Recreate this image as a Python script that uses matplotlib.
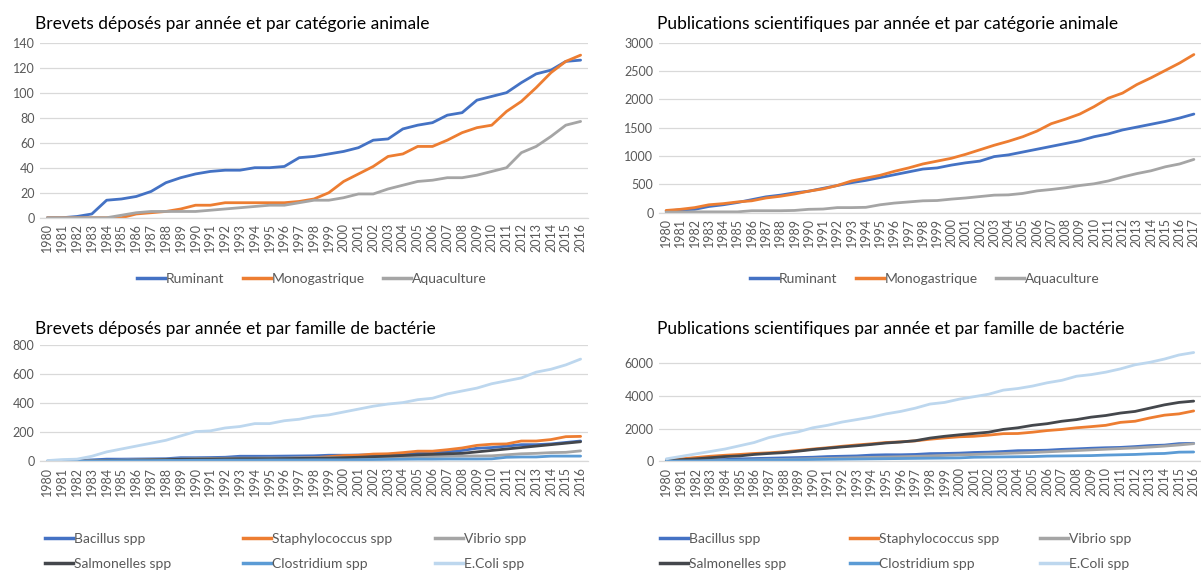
import matplotlib.pyplot as plt
from matplotlib.lines import Line2D

plt.rcParams['font.family'] = ['Lato', 'DejaVu Sans']

# years on the category axes
years_brevets = list(range(1980, 2017))
years_pubs = list(range(1980, 2018))

# Brevets par catégorie animale (1980-2016)
brev_ruminant = [0, 0, 1, 3, 14, 15, 17, 21, 28, 32, 35, 37, 38, 38, 40, 40, 41, 48, 49,
                 51, 53, 56, 62, 63, 71, 74, 76, 82, 84, 94, 97, 100, 108, 115, 118, 125, 126]
brev_monogastrique = [0, 0, 0, 0, 0, 0, 3, 4, 5, 7, 10, 10, 12, 12, 12, 12, 12, 13, 15,
                      20, 29, 35, 41, 49, 51, 57, 57, 62, 68, 72, 74, 85, 93, 104, 116, 125, 130]
brev_aquaculture = [0, 0, 0, 0, 0, 2, 4, 5, 5, 5, 5, 6, 7, 8, 9, 10, 10, 12, 14,
                    14, 16, 19, 19, 23, 26, 29, 30, 32, 32, 34, 37, 40, 52, 57, 65, 74, 77]

# Publications par catégorie animale (1980-2017)
pub_ruminant = [30, 50, 60, 110, 140, 180, 230, 280, 310, 350, 380, 430, 480, 530, 570, 620,
                670, 720, 770, 790, 840, 880, 910, 990, 1020, 1070, 1120, 1170, 1220, 1270,
                1340, 1390, 1460, 1510, 1560, 1610, 1670, 1740]
pub_monogastrique = [40, 60, 90, 140, 160, 190, 210, 260, 290, 330, 380, 420, 480, 560, 610,
                     660, 730, 790, 860, 910, 960, 1030, 1110, 1190, 1260, 1340, 1440, 1570,
                     1650, 1740, 1870, 2020, 2110, 2260, 2380, 2510, 2640, 2790]
pub_aquaculture = [10, 10, 15, 15, 15, 15, 35, 35, 35, 40, 60, 65, 90, 90, 95, 140, 170, 190,
                   210, 215, 240, 260, 285, 310, 315, 340, 385, 410, 440, 480, 510, 560, 630,
                   690, 740, 810, 860, 940]

# Brevets par famille de bactérie (1980-2016)
brev_bacillus = [0, 2, 5, 10, 15, 15, 16, 17, 18, 25, 25, 26, 28, 35, 35, 35, 36, 37, 38, 42,
                 42, 43, 45, 48, 52, 55, 58, 65, 75, 90, 95, 105, 115, 115, 120, 130, 140]
brev_staph = [0, 0, 0, 2, 3, 4, 5, 6, 8, 10, 12, 14, 15, 16, 17, 18, 20, 22, 25, 32,
              40, 42, 50, 52, 60, 70, 70, 80, 92, 110, 118, 120, 140, 140, 150, 170, 172]
brev_vibrio = [0, 0, 2, 4, 6, 8, 10, 12, 14, 16, 18, 20, 21, 22, 22, 23, 23, 24, 24, 25,
               26, 27, 28, 30, 31, 32, 33, 35, 36, 37, 38, 45, 52, 55, 60, 62, 72]
brev_salmonelles = [0, 0, 0, 2, 4, 5, 8, 10, 12, 14, 15, 16, 17, 18, 18, 18, 19, 20, 21, 22,
                    25, 28, 32, 36, 40, 45, 48, 52, 55, 65, 75, 85, 95, 105, 115, 125, 135]
brev_clostridium = [0, 0, 1, 2, 3, 4, 5, 5, 6, 6, 7, 7, 8, 8, 8, 9, 9, 9, 10, 10,
                    10, 11, 12, 13, 14, 15, 15, 16, 16, 16, 17, 28, 30, 30, 36, 36, 36]
brev_ecoli = [5, 12, 15, 35, 65, 85, 105, 125, 145, 175, 205, 210, 230, 240, 260, 260, 280,
              290, 310, 320, 340, 360, 380, 395, 405, 425, 435, 465, 485, 505, 535, 555, 575,
              615, 635, 665, 705]

# Publications par famille de bactérie (1980-2016)
pub_bacillus = [20, 50, 70, 90, 110, 150, 170, 190, 210, 230, 250, 290, 310, 330, 380, 400,
                400, 420, 470, 480, 500, 540, 560, 600, 650, 660, 680, 730, 760, 800, 830, 850,
                900, 960, 990, 1080, 1100]
pub_staph = [50, 150, 230, 310, 370, 420, 480, 520, 580, 660, 750, 830, 920, 1000, 1070, 1150,
             1190, 1250, 1350, 1430, 1500, 1530, 1600, 1690, 1700, 1780, 1880, 1950, 2050,
             2120, 2200, 2380, 2450, 2650, 2820, 2900, 3080]
pub_vibrio = [10, 20, 30, 40, 50, 60, 80, 100, 120, 140, 160, 180, 200, 220, 240, 260, 280,
              300, 330, 360, 390, 420, 450, 480, 510, 540, 580, 620, 660, 700, 740, 780, 820,
              870, 930, 1000, 1080]
pub_salmonelles = [50, 100, 150, 220, 290, 330, 420, 480, 530, 620, 720, 800, 880, 950, 1030,
                   1120, 1180, 1260, 1420, 1530, 1620, 1700, 1780, 1950, 2050, 2200, 2300,
                   2450, 2550, 2700, 2800, 2950, 3050, 3250, 3450, 3600, 3680]
pub_clostridium = [10, 20, 30, 40, 50, 60, 70, 80, 90, 100, 110, 120, 130, 140, 150, 160, 170,
                   180, 190, 200, 210, 250, 260, 270, 280, 290, 320, 330, 340, 350, 380, 400,
                   420, 460, 480, 560, 570]
pub_ecoli = [150, 300, 450, 600, 750, 950, 1150, 1450, 1650, 1800, 2050, 2200, 2400, 2550,
             2700, 2900, 3050, 3250, 3500, 3600, 3800, 3950, 4100, 4350, 4450, 4600, 4800,
             4950, 5200, 5300, 5450, 5650, 5900, 6050, 6250, 6500, 6650]

animal_labels = ['Ruminant', 'Monogastrique', 'Aquaculture']
bact_labels = ['Bacillus spp', 'Staphylococcus spp', 'Vibrio spp',
               'Salmonelles spp', 'Clostridium spp', 'E.Coli spp']

animal_colors = ['#4472C4', '#ED7D31', '#A5A5A5']
bact_colors = ['#4472C4', '#ED7D31', '#A5A5A5', '#44474C', '#5B9BD5', '#BDD7EE']

GRID = '#D9D9D9'
TXT = '#595959'
LW = 2.0

fig = plt.figure(figsize=(12.01, 5.76), dpi=100)


def style_axis(ax, years, ymax, yticks):
    ax.set_xlim(years[0] - 0.5, years[-1] + 0.5)
    ax.set_ylim(0, ymax)
    ax.set_xticks(years)
    ax.set_xticklabels([str(y) for y in years], rotation=90, fontsize=9, color=TXT)
    ax.set_yticks(yticks)
    ax.set_yticklabels([str(t) for t in yticks], fontsize=9, color=TXT)
    ax.tick_params(length=0, pad=4)
    ax.grid(axis='y', color=GRID, lw=0.9)
    ax.set_axisbelow(True)
    for s in ['top', 'right', 'left']:
        ax.spines[s].set_visible(False)
    ax.spines['bottom'].set_color(GRID)
    ax.spines['bottom'].set_linewidth(0.9)


def draw(ax, years, series, colors):
    for vals, c in zip(series, colors):
        ax.plot(years, vals, color=c, lw=LW, solid_joinstyle='round', solid_capstyle='round')


# top left
ax1 = fig.add_axes([0.0333, 0.622, 0.4563, 0.304])
draw(ax1, years_brevets, [brev_ruminant, brev_monogastrique, brev_aquaculture], animal_colors)
style_axis(ax1, years_brevets, 140, list(range(0, 141, 20)))

# top right
ax2 = fig.add_axes([0.5487, 0.6307, 0.4513, 0.2953])
draw(ax2, years_pubs, [pub_ruminant, pub_monogastrique, pub_aquaculture], animal_colors)
style_axis(ax2, years_pubs, 3000, list(range(0, 3001, 500)))

# bottom left
ax3 = fig.add_axes([0.0333, 0.1991, 0.4563, 0.2014])
draw(ax3, years_brevets,
     [brev_bacillus, brev_staph, brev_vibrio, brev_salmonelles, brev_clostridium, brev_ecoli],
     bact_colors)
style_axis(ax3, years_brevets, 800, list(range(0, 801, 200)))

# bottom right
ax4 = fig.add_axes([0.5487, 0.1991, 0.4513, 0.196])
draw(ax4, years_brevets,
     [pub_bacillus, pub_staph, pub_vibrio, pub_salmonelles, pub_clostridium, pub_ecoli],
     bact_colors)
style_axis(ax4, years_brevets, 6900, list(range(0, 6001, 2000)))
ax4.grid(False)
for t in range(0, 6001, 2000):
    ax4.axhline(t, color=GRID, lw=0.9, zorder=0)

# titles
title_kw = dict(fontsize=12.5, color='black', va='baseline', ha='left')
fig.text(35 / 1201, 1 - 29 / 576, 'Brevets déposés par année et par catégorie animale', **title_kw)
fig.text(657 / 1201, 1 - 29 / 576, 'Publications scientifiques par année et par catégorie animale', **title_kw)
fig.text(35 / 1201, 1 - 334 / 576, 'Brevets déposés par année et par famille de bactérie', **title_kw)
fig.text(657 / 1201, 1 - 334 / 576, 'Publications scientifiques par année et par famille de bactérie', **title_kw)


def handles(colors, labels):
    return [Line2D([], [], color=c, lw=LW + 0.5, label=l) for c, l in zip(colors, labels)]


leg_kw = dict(frameon=False, handlelength=2.0, handletextpad=0.1,
              prop={'size': 10}, labelcolor=TXT, borderpad=0, borderaxespad=0)

h_animal = handles(animal_colors, animal_labels)
fig.legend(handles=h_animal, loc='center', bbox_to_anchor=(312 / 1201, 1 - 279 / 576),
           ncol=3, columnspacing=1.3, **leg_kw)
fig.legend(handles=h_animal, loc='center', bbox_to_anchor=(925 / 1201, 1 - 279 / 576),
           ncol=3, columnspacing=1.3, **leg_kw)

# bacteria legends: one legend per column so the columns line up like Excel's
h_bact = handles(bact_colors, bact_labels)
for xs in ([45, 243, 435], [660, 850, 1040]):
    for i, x in enumerate(xs):
        fig.legend(handles=[h_bact[i], h_bact[i + 3]], loc='upper left',
                   bbox_to_anchor=(x / 1201, 1 - 533 / 576), labelspacing=0.95, **leg_kw)

fig.savefig('out.png', dpi=100)
